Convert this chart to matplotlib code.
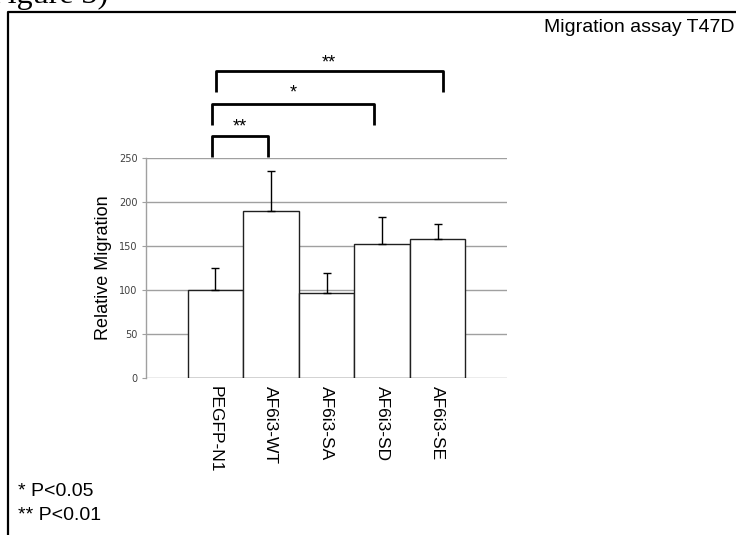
import matplotlib.pyplot as plt
import numpy as np

# data
groups = ["PEGFP-N1", "AF6i3-WT", "AF6i3-SA", "AF6i3-SD", "AF6i3-SE"]
migration = [100, 190, 97, 153, 158]
errors = [25, 45, 23, 30, 17]
yticks = [0, 50, 100, 150, 200, 250]
# significance brackets: (from, to, label)
comparisons = [(0, 1, "**"), (0, 3, "*"), (0, 4, "**")]
notes = ["* P<0.05", "** P<0.01"]

W, H = 736, 535
fig = plt.figure(figsize=(W / 100, H / 100), dpi=100)
plt.rcParams['font.family'] = ['Liberation Sans', 'DejaVu Sans']

def fx(px):
    return px / W

def fy(py):
    return 1 - py / H

ax = fig.add_axes([fx(146), fy(378), fx(507) - fx(146), fy(158.3) - fy(378)])
x = np.arange(len(groups))
ax.bar(x, migration, width=1.0, color='white', edgecolor='#202020', linewidth=1.0, zorder=3)
ax.errorbar(x, migration, yerr=[np.zeros(len(errors)), errors], fmt='none',
            ecolor='black', elinewidth=1.0, capsize=3, capthick=1.0, zorder=4)

ax.set_xlim(-1.25, 5.25)
ax.set_ylim(0, 250)
ax.set_yticks(yticks)
ax.set_yticklabels([str(t) for t in yticks], fontsize=7, color='#404040',
                   family='DejaVu Sans')
ax.yaxis.grid(True, color='#a0a0a0', linewidth=1.0, zorder=0)
ax.tick_params(axis='y', length=3, color='#a0a0a0', pad=3)
ax.set_xticks(x)
ax.set_xticklabels(groups, rotation=-90, fontsize=12.5, va='top')
ax.tick_params(axis='x', length=0, pad=6)
for s in ['top', 'right', 'bottom']:
    ax.spines[s].set_visible(False)
ax.spines['left'].set_color('#a0a0a0')
ax.spines['left'].set_linewidth(1.0)
ax.set_ylabel("Relative Migration", fontsize=13, labelpad=5)

# significance brackets: (bottom, top, star y, left shift, right shift)
levels = [(251, 275, 286, -0.06, -0.05), (288, 312, 324, -0.06, -0.15),
          (325, 349, 359, 0.01, 0.09)]
for (a, b, lab), (y0, y1, yt, da, db) in zip(comparisons, levels):
    xa, xb = a + da, b + db
    ax.plot([xa, xa, xb, xb], [y0, y1, y1, y0], color='black',
            linewidth=2.0, solid_joinstyle='round', solid_capstyle='butt',
            clip_on=False, zorder=5)
    ax.text((xa + xb) / 2, yt, lab, ha='center', va='center', fontsize=13,
            clip_on=False)

# frame and surrounding text
fig.add_artist(plt.Line2D([fx(8), fx(8), fx(740)], [fy(540), fy(12), fy(12)],
                          color='black', linewidth=1.6, transform=fig.transFigure))
fig.text(fx(734), fy(27), "Migration assay T47D", ha='right', va='center', fontsize=14)
fig.text(fx(18), fy(492), notes[0], ha='left', va='center', fontsize=14)
fig.text(fx(18), fy(515), notes[1], ha='left', va='center', fontsize=14)
fig.text(fx(108), fy(2.5), "Figure 3)", ha='right', va='baseline', fontsize=23,
         family='Liberation Serif')

fig.savefig("out.png", dpi=100)
